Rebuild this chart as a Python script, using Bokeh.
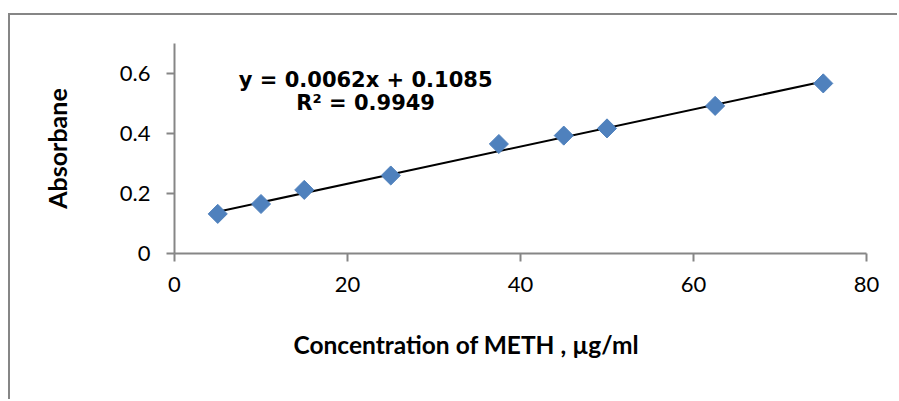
import math
from bokeh.plotting import figure
from bokeh.models import Label, FixedTicker, Title
from bokeh.embed import file_html
from bokeh.resources import INLINE

# data
conc = [5, 10, 15, 25, 37.5, 45, 50, 62.5, 75]
absorb = [0.132, 0.165, 0.212, 0.260, 0.365, 0.393, 0.417, 0.492, 0.567]
slope = 0.0062
intercept = 0.1085
r2 = 0.9949
x_ticks = [0, 20, 40, 60, 80]
y_ticks = [0, 0.2, 0.4, 0.6]
x_title = "Concentration of METH , µg/ml"
y_title = "Absorbane"

AXIS = "#868686"
TICK_FONT = "Lato"

p = figure(width=889, height=386, output_backend="svg", toolbar_location=None,
           x_range=(0, 80), y_range=(0, 0.7),
           min_border_left=164, min_border_right=33, min_border_top=28, min_border_bottom=148)
p.styles = {"border-left": f"2px solid {AXIS}", "border-top": f"2px solid {AXIS}",
            "margin-left": "8px", "margin-top": "13px"}
p.outline_line_color = None
p.grid.visible = False
p.background_fill_color = "white"
p.border_fill_color = "white"

for ax in (p.xaxis[0], p.yaxis[0]):
    ax.axis_line_color = AXIS
    ax.axis_line_width = 2
    ax.major_tick_line_color = AXIS
    ax.major_tick_line_width = 2
    ax.major_tick_in = 0
    ax.major_tick_out = 8
    ax.minor_tick_line_color = None
    ax.major_label_text_font = TICK_FONT
    ax.major_label_text_font_size = "22px"
    ax.major_label_text_color = "black"

p.xaxis.ticker = FixedTicker(ticks=x_ticks)
p.yaxis.ticker = FixedTicker(ticks=y_ticks)
p.yaxis.major_label_overrides = {0: "0", 0.2: "0.2", 0.4: "0.4", 0.6: "0.6"}
p.xaxis.major_label_overrides = {t: str(t) for t in x_ticks}
p.xaxis.major_label_standoff = 15
p.yaxis.major_label_standoff = 16

p.yaxis.axis_label = y_title
p.yaxis.axis_label_text_font = "Lato"
p.yaxis.axis_label_text_font_style = "bold"
p.yaxis.axis_label_text_font_size = "25px"
p.yaxis.axis_label_text_color = "black"
p.yaxis.axis_label_standoff = 45

p.add_layout(Title(text=x_title, align="left", offset=119, standoff=70,
                   vertical_align="top",
                   text_font="Lato", text_font_style="bold", text_font_size="24.5px",
                   text_color="black"), "below")

# trendline from the fitted equation
xl = [min(conc), max(conc)]
yl = [slope * v + intercept for v in xl]
p.line(xl, yl, line_color="black", line_width=2)

# points
p.scatter(conc, absorb, marker="square", size=13.5, angle=math.pi / 4,
          fill_color="#4F81BD", line_color="#4F81BD")

# equation text
p.add_layout(Label(x=22.1, y=0.579, text=f"y = {slope}x + {intercept}",
                   text_align="center", text_baseline="alphabetic",
                   text_font="DejaVu Sans", text_font_style="bold",
                   text_font_size="21px", text_color="black"))
p.add_layout(Label(x=22.1, y=0.503, text=f"R² = {r2}",
                   text_align="center", text_baseline="alphabetic",
                   text_font="DejaVu Sans", text_font_style="bold",
                   text_font_size="21px", text_color="black"))

open("out.html", "w").write(file_html(p, INLINE))
